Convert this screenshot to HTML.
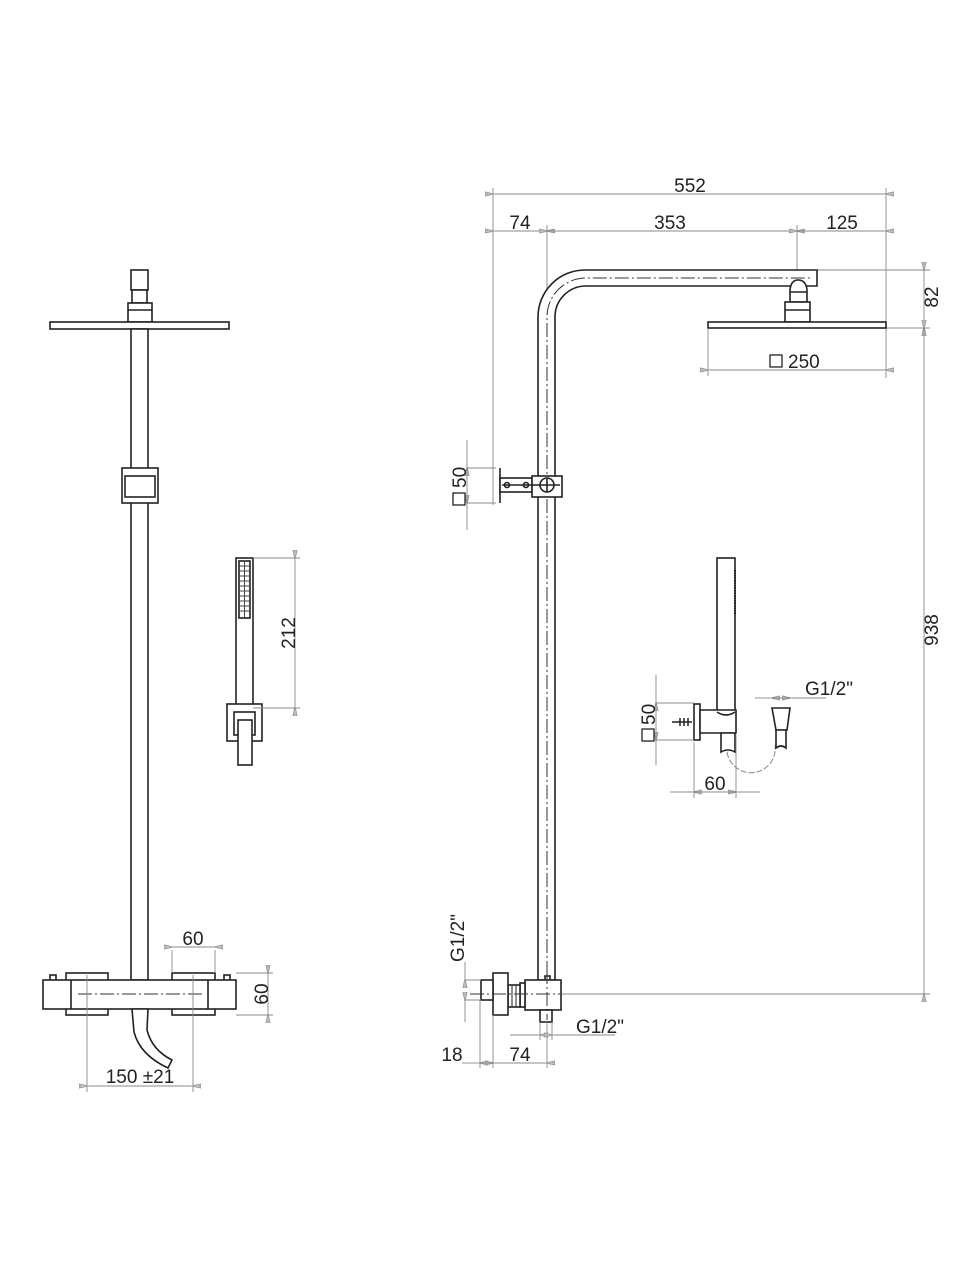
<!DOCTYPE html>
<html><head><meta charset="utf-8"><style>
html,body{margin:0;padding:0;background:#fff}
svg{display:block}
text{font-family:"Liberation Sans",sans-serif;font-size:19px;fill:#222}
.o{fill:none;stroke:#222;stroke-width:1.6}
.f{fill:#fff;stroke:#222;stroke-width:1.6}
.d{fill:none;stroke:#888;stroke-width:0.9}
.c{fill:none;stroke:#333;stroke-width:1;stroke-dasharray:14 3 2 3}
</style></head><body>
<svg width="970" height="1269" viewBox="0 0 970 1269">
<defs>
<marker id="a" viewBox="0 0 10 6" refX="0" refY="3" markerWidth="10" markerHeight="6" orient="auto-start-reverse" markerUnits="userSpaceOnUse"><path d="M0,3 L10,0.8 L10,5.2 Z" fill="#bbb" stroke="#888" stroke-width="0.6"/></marker>
</defs>

<!-- LEFT DRAWING -->
<rect class="f" x="131" y="270" width="17" height="20"/>
<rect class="f" x="132" y="290" width="15" height="13"/>
<rect class="f" x="128" y="303" width="24" height="19"/>
<line class="o" x1="128" y1="310" x2="152" y2="310"/>
<rect class="f" x="50" y="322" width="179" height="7"/>
<rect class="f" x="131" y="329" width="17" height="651"/>
<rect class="f" x="122" y="468" width="36" height="35"/>
<rect class="f" x="125" y="476" width="30" height="21"/>

<!-- hand shower left -->
<rect class="f" x="236" y="558" width="17" height="150"/>
<rect class="o" x="239" y="561" width="11" height="57"/>
<g stroke="#444" stroke-width="1">
<line x1="239" y1="566" x2="250" y2="566"/><line x1="239" y1="571" x2="250" y2="571"/><line x1="239" y1="576" x2="250" y2="576"/><line x1="239" y1="581" x2="250" y2="581"/><line x1="239" y1="586" x2="250" y2="586"/><line x1="239" y1="591" x2="250" y2="591"/><line x1="239" y1="596" x2="250" y2="596"/><line x1="239" y1="601" x2="250" y2="601"/><line x1="239" y1="606" x2="250" y2="606"/><line x1="239" y1="611" x2="250" y2="611"/>
<line x1="244.5" y1="561" x2="244.5" y2="618"/></g>
<rect class="f" x="227" y="704" width="35" height="37"/>
<rect class="o" x="234" y="712" width="21" height="23"/>
<rect class="f" x="238" y="720" width="14" height="45"/>
<path class="d" d="M253 558 H300 M253 708 H300"/>
<line class="d" x1="295" y1="560" x2="295" y2="706" marker-start="url(#a)" marker-end="url(#a)"/>
<text transform="translate(295,633) rotate(-90)" text-anchor="middle">212</text>

<!-- mixer -->
<rect class="f" x="50" y="975" width="6" height="6"/>
<rect class="f" x="224" y="975" width="6" height="6"/>
<rect class="f" x="66" y="973" width="42" height="42"/>
<rect class="f" x="172" y="973" width="43" height="42"/>
<rect class="f" x="43" y="980" width="193" height="29"/>
<line class="o" x1="71" y1="980" x2="71" y2="1009"/>
<line class="o" x1="208" y1="980" x2="208" y2="1009"/>
<line class="c" x1="78" y1="994" x2="202" y2="994"/>
<path class="f" d="M132 1009 H148 L147 1030 Q152 1050 172 1060 L168 1068 Q140 1055 134 1032 Z"/>
<path class="d" d="M87 975 V1092 M193 975 V1092 M172 950 V973 M215 950 V973 M236 973 H273 M236 1015 H273"/>
<line class="d" x1="89" y1="1086" x2="191" y2="1086" marker-start="url(#a)" marker-end="url(#a)"/>
<line class="d" x1="174" y1="947" x2="213" y2="947" marker-start="url(#a)" marker-end="url(#a)"/>
<line class="d" x1="268" y1="975" x2="268" y2="1013" marker-start="url(#a)" marker-end="url(#a)"/>
<text x="193" y="945" text-anchor="middle">60</text>
<text transform="translate(268,994) rotate(-90)" text-anchor="middle">60</text>
<text x="140" y="1083" text-anchor="middle">150 ±21</text>

<!-- RIGHT DRAWING -->
<path class="d" d="M493 188 V505 M547 225 V300 M797 225 V282 M886 188 V378 M817 270 H930 M886 328 H930 M560 994 H930"/>
<line class="d" x1="495" y1="194" x2="884" y2="194" marker-start="url(#a)" marker-end="url(#a)"/>
<line class="d" x1="495" y1="231" x2="545" y2="231" marker-start="url(#a)" marker-end="url(#a)"/>
<line class="d" x1="549" y1="231" x2="795" y2="231" marker-start="url(#a)" marker-end="url(#a)"/>
<line class="d" x1="799" y1="231" x2="884" y2="231" marker-start="url(#a)" marker-end="url(#a)"/>
<line class="d" x1="924" y1="272" x2="924" y2="326" marker-start="url(#a)" marker-end="url(#a)"/>
<line class="d" x1="924" y1="330" x2="924" y2="992" marker-start="url(#a)" marker-end="url(#a)"/>
<text x="690" y="192" text-anchor="middle">552</text>
<text x="520" y="229" text-anchor="middle">74</text>
<text x="670" y="229" text-anchor="middle">353</text>
<text x="842" y="229" text-anchor="middle">125</text>
<text transform="translate(938,297) rotate(-90)" text-anchor="middle">82</text>
<text transform="translate(938,630) rotate(-90)" text-anchor="middle">938</text>

<path class="f" d="M538 980 V317 A47 47 0 0 1 585 270 H817 V286 H586 A31 31 0 0 0 555 317 V980 Z"/>
<path class="c" d="M547 975 V317 A39 39 0 0 1 586 278 H810"/>
<path class="f" d="M790 302 V290 Q791 280 798 280 Q806 280 807 290 V302 Z"/>
<line class="o" x1="790" y1="292" x2="807" y2="292"/>
<rect class="f" x="785" y="302" width="25" height="20"/>
<line class="o" x1="785" y1="310" x2="810" y2="310"/>
<rect class="f" x="708" y="322" width="178" height="6"/>
<path class="d" d="M708 328 V376"/>
<line class="d" x1="710" y1="370" x2="884" y2="370" marker-start="url(#a)" marker-end="url(#a)"/>
<rect x="770" y="355" width="12" height="12" fill="none" stroke="#222" stroke-width="1.3"/>
<text x="788" y="368">250</text>

<line class="o" x1="500" y1="468" x2="500" y2="503"/>
<rect class="f" x="500" y="478" width="32" height="14"/>
<circle class="o" cx="507" cy="485" r="2.5"/>
<circle class="o" cx="526" cy="485" r="2.5"/>
<rect class="f" x="532" y="476" width="30" height="21"/>
<circle class="o" cx="547" cy="485" r="7"/>
<path class="o" d="M502 485 H560 M547 478 V492" stroke-width="1"/>
<path class="d" d="M467 468 H496 M467 503 H496"/>
<line class="d" x1="467" y1="440" x2="467" y2="466" marker-end="url(#a)"/>
<line class="d" x1="467" y1="530" x2="467" y2="505" marker-end="url(#a)"/>
<line class="d" x1="467" y1="468" x2="467" y2="503"/>
<rect x="453" y="493" width="12" height="12" fill="none" stroke="#222" stroke-width="1.3"/>
<text transform="translate(466,488) rotate(-90)">50</text>

<rect class="f" x="717" y="558" width="18" height="154"/>
<line x1="735" y1="570" x2="735" y2="614" stroke="#222" stroke-width="2" stroke-dasharray="1.5 1"/>
<rect class="f" x="694" y="704" width="6" height="36"/>
<path class="f" d="M700 710 H736 V733 H700 Z"/>
<path class="o" d="M717 712 Q726 718 735 712"/>
<path class="f" d="M721 733 H735 V752 Q728 748 721 752 Z"/>
<path d="M672 722 H692 M680 718 V726 M684 718 V726 M688 718 V726" stroke="#222" stroke-width="1.5"/>
<path d="M727 752 A24 24 0 0 0 775 745" fill="none" stroke="#888" stroke-width="1" stroke-dasharray="6 2"/>
<path class="f" d="M772 708 H790 L787 730 H776 Z"/>
<path class="f" d="M776 730 H786 V748 Q781 744 776 748 Z"/>
<path class="d" d="M656 703 H694 M656 740 H694 M694 742 V798 M736 735 V798"/>
<line class="d" x1="656" y1="675" x2="656" y2="701" marker-end="url(#a)"/>
<line class="d" x1="656" y1="765" x2="656" y2="742" marker-end="url(#a)"/>
<line class="d" x1="656" y1="703" x2="656" y2="740"/>
<rect x="642" y="729" width="12" height="12" fill="none" stroke="#222" stroke-width="1.3"/>
<text transform="translate(655,725) rotate(-90)">50</text>
<line class="d" x1="670" y1="792" x2="692" y2="792" marker-end="url(#a)"/>
<line class="d" x1="760" y1="792" x2="738" y2="792" marker-end="url(#a)"/>
<line class="d" x1="694" y1="792" x2="736" y2="792"/>
<text x="715" y="790" text-anchor="middle">60</text>
<line class="d" x1="755" y1="698" x2="770" y2="698" marker-end="url(#a)"/>
<line class="d" x1="810" y1="698" x2="792" y2="698" marker-end="url(#a)"/>
<path class="d" d="M772 698 H790 M810 698 H826"/>
<text x="805" y="695">G1/2"</text>

<rect class="f" x="545" y="976" width="5" height="5"/>
<rect class="f" x="525" y="980" width="36" height="30"/>
<rect class="f" x="520" y="983" width="5" height="24"/>
<rect class="f" x="540" y="1010" width="12" height="12"/>
<rect class="f" x="508" y="985" width="12" height="22"/>
<path d="M512 985 V1007 M516 985 V1007" stroke="#222" stroke-width="1"/>
<rect class="f" x="493" y="973" width="15" height="42"/>
<rect class="f" x="481" y="980" width="12" height="20"/>
<path class="c" d="M470 994 H560"/>
<path class="c" d="M547 970 V1020"/>
<path class="d" d="M465 980 H481 M465 1000 H481 M480 1000 V1068 M493 1015 V1068 M547 1022 V1068 M540 1022 V1040 M552 1022 V1040"/>
<line class="d" x1="465" y1="962" x2="465" y2="978" marker-end="url(#a)"/>
<line class="d" x1="465" y1="1022" x2="465" y2="1002" marker-end="url(#a)"/>
<text transform="translate(464,962) rotate(-90)">G1/2"</text>
<line class="d" x1="510" y1="1035" x2="538" y2="1035" marker-end="url(#a)"/>
<line class="d" x1="572" y1="1035" x2="554" y2="1035" marker-end="url(#a)"/>
<path class="d" d="M572 1035 H615"/>
<text x="576" y="1033">G1/2"</text>
<line class="d" x1="462" y1="1063" x2="478" y2="1063" marker-end="url(#a)"/>
<line class="d" x1="495" y1="1063" x2="545" y2="1063" marker-start="url(#a)" marker-end="url(#a)"/>
<line class="d" x1="480" y1="1063" x2="493" y2="1063"/>
<text x="452" y="1061" text-anchor="middle">18</text>
<text x="520" y="1061" text-anchor="middle">74</text>
</svg>
</body></html>
